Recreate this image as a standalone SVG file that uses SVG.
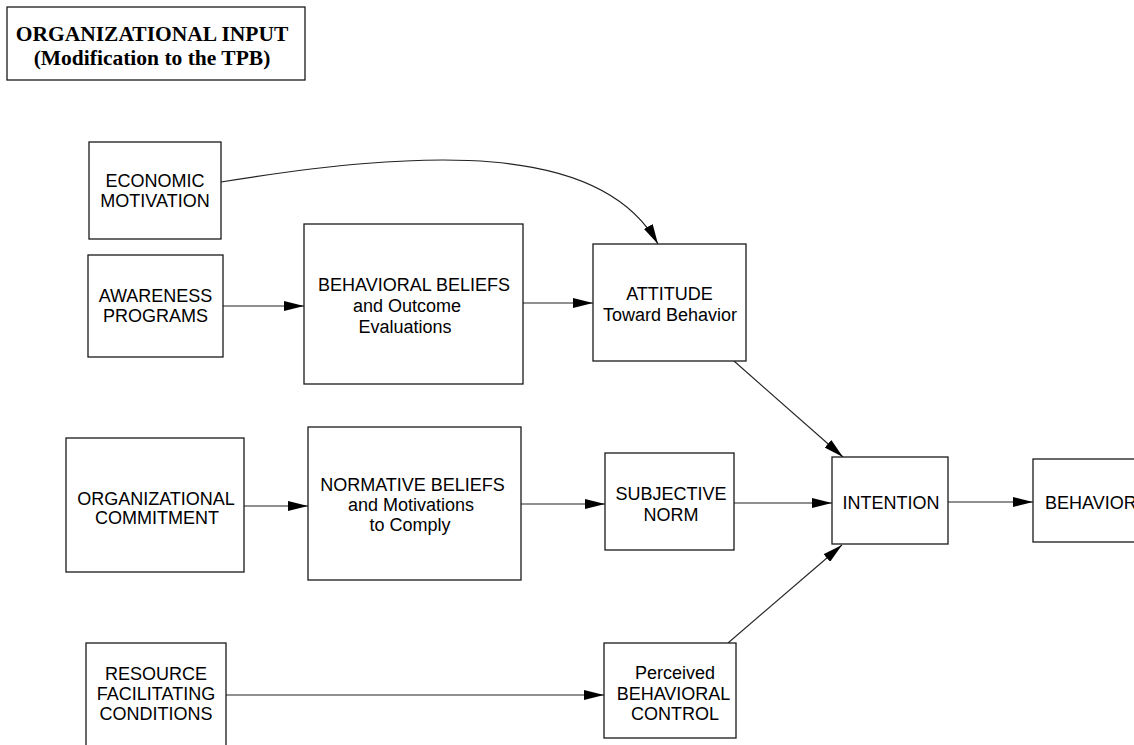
<svg xmlns="http://www.w3.org/2000/svg" width="1134" height="745" viewBox="0 0 1134 745">
<defs>
<style>
.box{fill:#fff;stroke:#1a1a1a;stroke-width:1.3}
.t{font-family:"Liberation Sans",Arial,sans-serif;font-size:18px;fill:#000;text-anchor:middle}
.ttl{font-family:"Liberation Serif","Times New Roman",serif;font-size:21.5px;font-weight:bold;fill:#000;text-anchor:middle}
.c{fill:none;stroke:#222;stroke-width:1.1}
</style>
<marker id="ah" viewBox="0 0 20 10" refX="20" refY="5" markerWidth="20" markerHeight="10" markerUnits="userSpaceOnUse" orient="auto">
<path d="M0,0 L20,5 L0,10 Z" fill="#000"/>
</marker>
</defs>
<rect width="1134" height="745" fill="#fff"/>

<g id="title">
<rect class="box" x="7" y="7" width="298" height="73"/>
<text class="ttl" x="152" y="40.5">ORGANIZATIONAL INPUT</text>
<text class="ttl" x="152" y="64.5">(Modification to the TPB)</text>
</g>

<g id="connectors">
<path class="c" d="M221,182 C420,150 600,140 658,244" marker-end="url(#ah)"/>
<line class="c" x1="223" y1="306" x2="304" y2="306" marker-end="url(#ah)"/>
<line class="c" x1="523" y1="303" x2="593" y2="303" marker-end="url(#ah)"/>
<line class="c" x1="244" y1="506" x2="308" y2="506" marker-end="url(#ah)"/>
<line class="c" x1="521" y1="504" x2="605" y2="504" marker-end="url(#ah)"/>
<line class="c" x1="734" y1="503" x2="832" y2="503" marker-end="url(#ah)"/>
<line class="c" x1="948" y1="502" x2="1033" y2="502" marker-end="url(#ah)"/>
<line class="c" x1="226" y1="695" x2="604" y2="695" marker-end="url(#ah)"/>
<line class="c" x1="734" y1="361" x2="843" y2="457" marker-end="url(#ah)"/>
<line class="c" x1="728" y1="643" x2="842" y2="545" marker-end="url(#ah)"/>
</g>

<g id="economic">
<rect class="box" x="89" y="142" width="132" height="97"/>
<text class="t" x="155" y="186.5">ECONOMIC</text>
<text class="t" x="155" y="206.5">MOTIVATION</text>
</g>

<g id="awareness">
<rect class="box" x="88" y="255" width="135" height="102"/>
<text class="t" x="155.5" y="301.5">AWARENESS</text>
<text class="t" x="155.5" y="322">PROGRAMS</text>
</g>

<g id="behavioral-beliefs">
<rect class="box" x="304" y="224" width="219" height="160"/>
<text class="t" x="414" y="291">BEHAVIORAL BELIEFS</text>
<text class="t" x="407" y="312">and Outcome</text>
<text class="t" x="405" y="333">Evaluations</text>
</g>

<g id="attitude">
<rect class="box" x="593" y="244" width="153" height="117"/>
<text class="t" x="669.5" y="299.5">ATTITUDE</text>
<text class="t" x="670" y="320.5">Toward Behavior</text>
</g>

<g id="org-commitment">
<rect class="box" x="66" y="438" width="178" height="134"/>
<text class="t" x="156" y="505">ORGANIZATIONAL</text>
<text class="t" x="157" y="524">COMMITMENT</text>
</g>

<g id="normative-beliefs">
<rect class="box" x="308" y="427" width="213" height="153"/>
<text class="t" x="412.5" y="491">NORMATIVE BELIEFS</text>
<text class="t" x="411" y="511">and Motivations</text>
<text class="t" x="410" y="531">to Comply</text>
</g>

<g id="subjective-norm">
<rect class="box" x="605" y="453" width="129" height="97"/>
<text class="t" x="671" y="499.5">SUBJECTIVE</text>
<text class="t" x="671" y="520.5">NORM</text>
</g>

<g id="intention">
<rect class="box" x="832" y="457" width="116" height="87"/>
<text class="t" x="891" y="508.5">INTENTION</text>
</g>

<g id="behavior">
<rect class="box" x="1033" y="459" width="110" height="83"/>
<text class="t" x="1045" y="508.5" style="text-anchor:start">BEHAVIOR</text>
</g>

<g id="resource">
<rect class="box" x="86" y="643" width="140" height="110"/>
<text class="t" x="156" y="679.5">RESOURCE</text>
<text class="t" x="156" y="699.5">FACILITATING</text>
<text class="t" x="156" y="719.5">CONDITIONS</text>
</g>

<g id="pbc">
<rect class="box" x="604" y="643" width="132" height="95"/>
<text class="t" x="675" y="679">Perceived</text>
<text class="t" x="673.5" y="700">BEHAVIORAL</text>
<text class="t" x="675" y="720">CONTROL</text>
</g>
</svg>
